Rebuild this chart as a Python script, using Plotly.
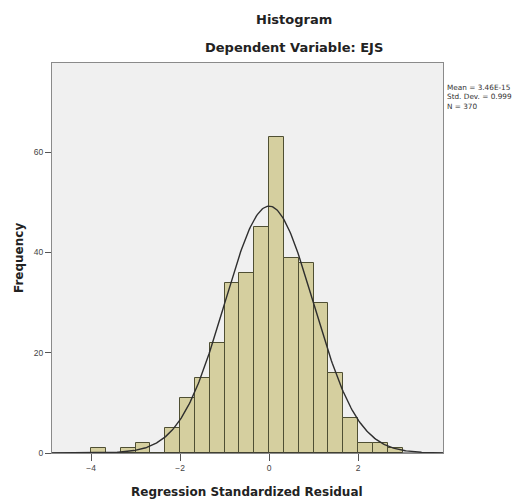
import numpy as np
import plotly.graph_objects as go

# Histogram of regression standardized residuals (bin width 1/3, first bin starts at -4)
bin_start = -4.0
bin_width = 1.0 / 3.0
counts = [1, 0, 1, 2, 0, 5, 11, 15, 22, 34, 36, 45, 63, 39, 38, 30, 16, 7, 2, 2, 1]

# Summary statistics of the residuals
stat_mean = 3.46e-15
stat_sd = 0.999
stat_n = 370

x_tick_vals = [-4, -2, 0, 2]
y_tick_vals = [0, 20, 40, 60]

edges = bin_start + bin_width * np.arange(len(counts) + 1)
centers = (edges[:-1] + edges[1:]) / 2

# Normal curve scaled to the histogram counts
xs = np.linspace(-4.9, 3.95, 400)
pdf = np.exp(-0.5 * ((xs - stat_mean) / stat_sd) ** 2) / (stat_sd * np.sqrt(2 * np.pi))
curve = stat_n * bin_width * pdf

W, H = 530, 502
ML, MR, MT, MB = 52, 87, 63, 49
plot_w = W - ML - MR
plot_h = H - MT - MB


def px(x, y):
    """Pixel position (from top-left) to paper coordinates."""
    return (x - ML) / plot_w, (H - MB - y) / plot_h


fig = go.Figure()
fig.add_trace(go.Bar(
    x=centers, y=counts, width=bin_width,
    marker=dict(color="#d5cf9f", line=dict(color="#4f4f33", width=1)),
    hoverinfo="x+y",
))
fig.add_trace(go.Scatter(
    x=xs, y=curve, mode="lines",
    line=dict(color="#2e2e2e", width=1.4),
    hoverinfo="skip",
))

tick_font = dict(family="Liberation Sans, Arial", size=8.5, color="#444444")
title_font = dict(family="DejaVu Sans", size=12, color="#222222")
head_font = dict(family="DejaVu Sans", size=13, color="#222222")
stat_font = dict(family="DejaVu Sans", size=7.3, color="#333333")


def label(text, x, y, font, **kw):
    ax, ay = px(x, y)
    return dict(text=text, x=ax, y=ay, xref="paper", yref="paper", showarrow=False,
                xanchor=kw.pop("xanchor", "center"), yanchor="middle", font=font, **kw)


stats_lines = [f"Mean = {stat_mean:.2E}", f"Std. Dev. = {stat_sd}", f"N = {stat_n}"]

annotations = [
    label("<b>Histogram</b>", 294, 20, head_font),
    label("<b>Dependent Variable: EJS</b>", 294, 48, head_font),
    label("<b>Regression Standardized Residual</b>", 247, 492, title_font),
    label("<b>Frequency</b>", 19, 258, title_font, textangle=-90),
]
for i, line in enumerate(stats_lines):
    annotations.append(label(line, 445, 87 + 9.5 * i, stat_font, xanchor="left"))

fig.update_layout(
    width=W, height=H,
    margin=dict(l=ML, r=MR, t=MT, b=MB),
    paper_bgcolor="white",
    plot_bgcolor="#f0f0f0",
    showlegend=False,
    bargap=0,
    xaxis=dict(
        range=[-4.88, 3.91], tickvals=x_tick_vals,
        ticks="outside", ticklen=7, tickcolor="#555555",
        tickfont=tick_font, showgrid=False, zeroline=False,
        showline=True, linecolor="#8a8a8a", linewidth=1, mirror=True,
    ),
    yaxis=dict(
        range=[0, 77.8], tickvals=y_tick_vals,
        ticks="outside", ticklen=6, tickcolor="#555555",
        tickfont=tick_font, showgrid=False, zeroline=False,
        showline=True, linecolor="#8a8a8a", linewidth=1, mirror=True,
    ),
    annotations=annotations,
)

# Baseline at zero spanning the plot area
fig.add_hline(y=0, line=dict(color="#333333", width=1.2))

fig.write_html("out.html")
